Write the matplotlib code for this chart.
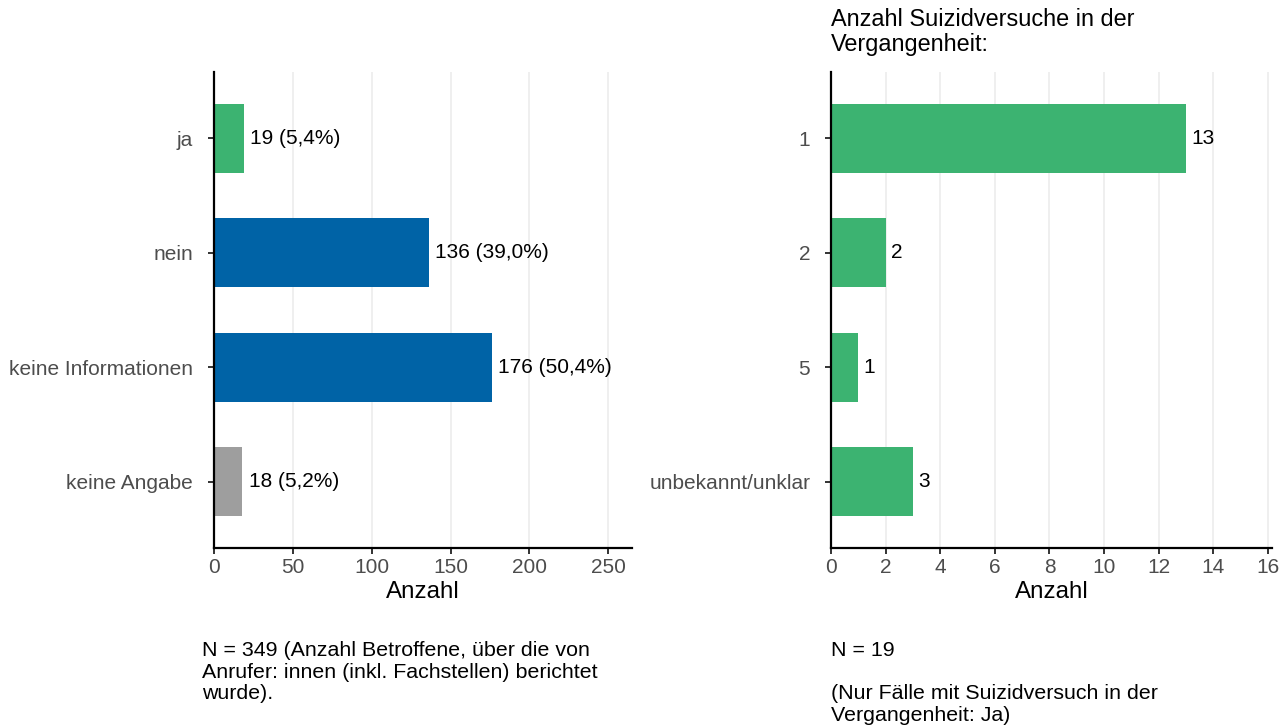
import matplotlib
matplotlib.use("Agg")
import matplotlib.pyplot as plt

plt.rcParams['font.family'] = ['Liberation Sans', 'DejaVu Sans']

# linke Grafik
kategorien_l = ["ja", "nein", "keine Informationen", "keine Angabe"]
werte_l = [19, 136, 176, 18]
labels_l = ["19 (5,4%)", "136 (39,0%)", "176 (50,4%)", "18 (5,2%)"]
farben_l = ["#3CB371", "#0063A6", "#0063A6", "#9E9E9E"]

# rechte Grafik
kategorien_r = ["1", "2", "5", "unbekannt/unklar"]
werte_r = [13, 2, 1, 3]
labels_r = ["13", "2", "1", "3"]

GRUEN = "#3CB371"
TICKFARBE = "#4D4D4D"

fig = plt.figure(figsize=(12.87, 7.28), dpi=100)
ax1 = fig.add_axes([214 / 1287, 1 - 548 / 728, 418 / 1287, 476 / 728])
ax2 = fig.add_axes([831 / 1287, 1 - 548 / 728, 441 / 1287, 476 / 728])


def style(ax, xmax, ticks):
    ax.set_xlim(0, xmax)
    ax.set_ylim(3.58, -0.58)
    ax.set_xticks(ticks)
    ax.grid(axis="x", color="#EBEBEB", linewidth=1.1)
    ax.set_axisbelow(True)
    for s in ["top", "right"]:
        ax.spines[s].set_visible(False)
    for s in ["left", "bottom"]:
        ax.spines[s].set_linewidth(1.6)
        ax.spines[s].set_color("black")
    ax.tick_params(axis="both", length=4, width=1.4, color="#333333",
                   labelsize=15, labelcolor=TICKFARBE)
    ax.tick_params(axis="y", pad=11)
    ax.tick_params(axis="x", pad=3.5)
    ax.set_xlabel("Anzahl", fontsize=17.4, labelpad=2.5)


y = range(len(kategorien_l))
ax1.barh(y, werte_l, height=0.6, color=farben_l)
for i, (v, t) in enumerate(zip(werte_l, labels_l)):
    ax1.annotate(t, (v, i), xytext=(4.5, 0), textcoords="offset points",
                 va="center", ha="left", fontsize=15)
ax1.set_yticks(list(y))
ax1.set_yticklabels(kategorien_l)
style(ax1, 265, [0, 50, 100, 150, 200, 250])

y = range(len(kategorien_r))
ax2.barh(y, werte_r, height=0.6, color=GRUEN)
for i, (v, t) in enumerate(zip(werte_r, labels_r)):
    ax2.annotate(t, (v, i), xytext=(4, 0), textcoords="offset points",
                 va="center", ha="left", fontsize=15)
ax2.set_yticks(list(y))
ax2.set_yticklabels(kategorien_r)
style(ax2, 16.15, list(range(0, 17, 2)))

fig.text(831 / 1287, 1 - 8 / 728, "Anzahl Suizidversuche in der\nVergangenheit:",
         ha="left", va="top", fontsize=16.9, linespacing=1.13)

fig.text(202 / 1287, 1 - 641 / 728,
         "N = 349 (Anzahl Betroffene, über die von\nAnrufer: innen (inkl. Fachstellen) berichtet\nwurde).",
         ha="left", va="top", fontsize=15.4, linespacing=1.17)
fig.text(831 / 1287, 1 - 641 / 728,
         "N = 19\n\n(Nur Fälle mit Suizidversuch in der\nVergangenheit: Ja)",
         ha="left", va="top", fontsize=15.4, linespacing=1.17)

fig.savefig("out.png", dpi=100)
